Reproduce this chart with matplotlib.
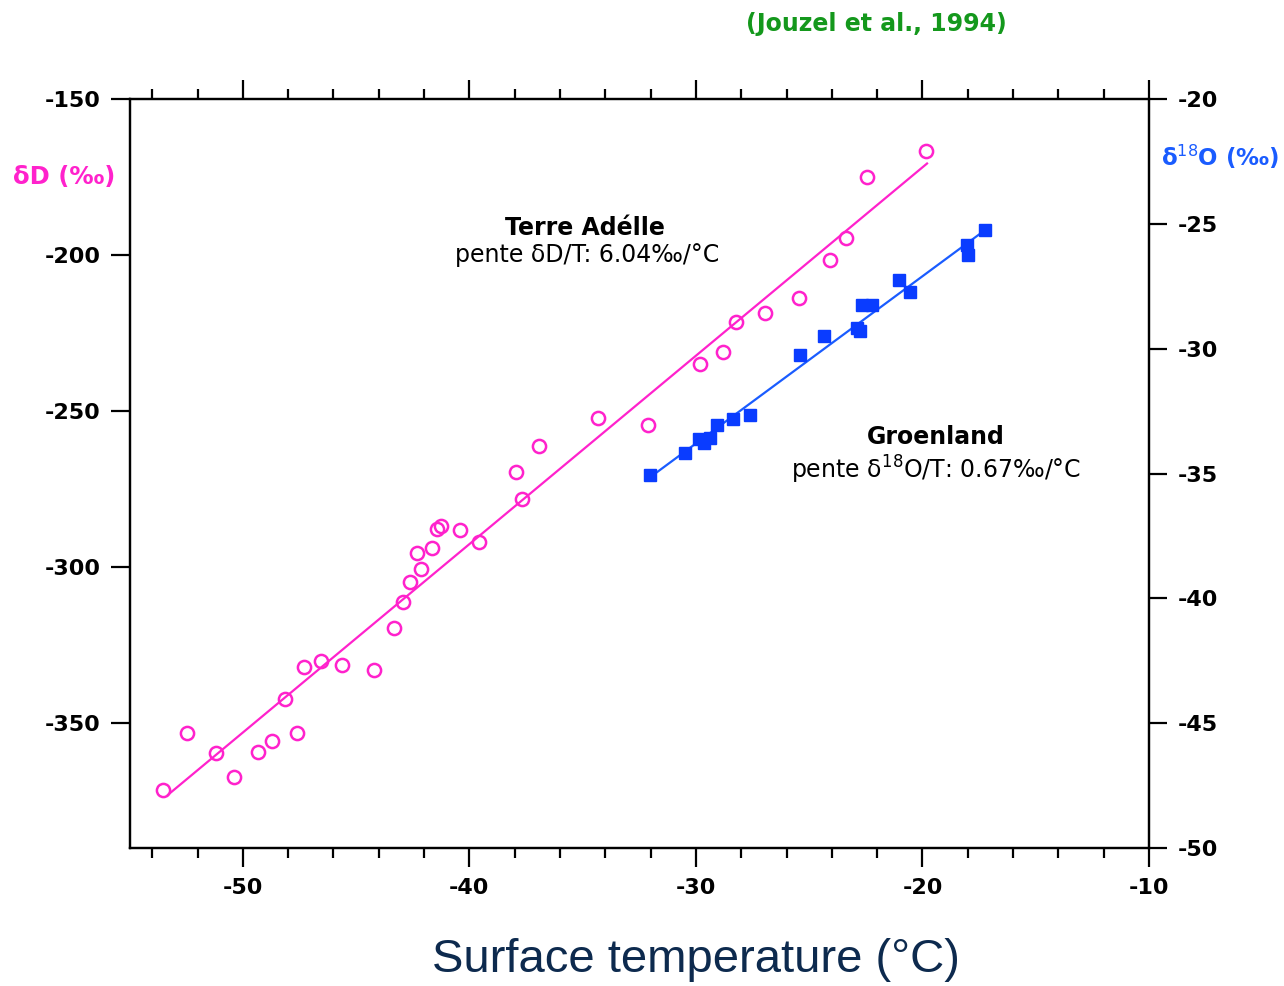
import numpy as np
import matplotlib
matplotlib.use("Agg")
import matplotlib.pyplot as plt
from matplotlib.ticker import MultipleLocator

plt.rcParams['axes.unicode_minus'] = False
plt.rcParams['font.family'] = ['DejaVu Sans']

# Terre Adelie: surface temperature (degC) vs deltaD (permil)
ta_temp = [-53.51, -52.48, -51.20, -50.40, -49.31, -48.71, -48.15, -47.61, -47.31,
           -46.53, -45.63, -44.22, -43.33, -42.92, -42.63, -42.13, -42.33, -41.63,
           -41.45, -41.25, -40.43, -39.59, -37.93, -37.67, -36.92, -34.32, -32.11,
           -29.84, -28.82, -28.25, -26.95, -25.45, -24.07, -23.36, -22.47, -19.84]
ta_dD = [-371.4, -353.0, -359.7, -367.4, -359.2, -355.7, -342.4, -353.3, -331.9,
         -330.1, -331.4, -332.8, -319.6, -311.3, -304.7, -300.6, -295.4, -294.0,
         -287.9, -286.8, -288.1, -291.9, -269.5, -278.2, -261.2, -252.2, -254.4,
         -234.9, -231.0, -221.3, -218.6, -213.8, -201.5, -194.4, -174.9, -166.7]

# Groenland: surface temperature (degC) vs delta18O (permil)
gr_temp = [-32.03, -30.47, -29.87, -29.65, -29.38, -29.07, -28.36, -27.61, -25.42,
           -24.33, -22.91, -22.78, -22.69, -22.23, -21.04, -20.54, -18.03, -18.00, -17.22]
gr_d18O = [-35.05, -34.18, -33.61, -33.77, -33.57, -33.05, -32.82, -32.65, -30.24,
           -29.47, -29.16, -29.28, -28.24, -28.24, -27.24, -27.73, -25.84, -26.24, -25.24]

# regression lines (slope, intercept, temperature range)
ta_fit = (6.04, -51.0, (-53.3, -19.8))
gr_fit = (0.67, -13.69, (-32.0, -17.2))

pink = '#ff22cc'
blue = '#1a5cff'
blue_sq = '#0a3cff'

fig = plt.figure(figsize=(12.84, 9.86), dpi=100)
ax = fig.add_axes([0.1009, 0.1400, 0.7940, 0.7593])
ax2 = ax.twinx()

# Terre Adelie
ax.plot(ta_temp, ta_dD, 'o', ms=9.5, mfc='none', mec=pink, mew=1.8, zorder=3)
xf = np.array(ta_fit[2])
ax.plot(xf, ta_fit[0] * xf + ta_fit[1], color=pink, lw=1.6)

# Groenland
ax2.plot(gr_temp, gr_d18O, 's', ms=8, color=blue_sq, mec=blue_sq, zorder=3)
xf = np.array(gr_fit[2])
ax2.plot(xf, gr_fit[0] * xf + gr_fit[1], color=blue, lw=1.6)

ax.set_xlim(-55, -10)
ax.set_ylim(-390, -150)
ax2.set_ylim(-50, -20)

ax.xaxis.set_major_locator(MultipleLocator(10))
ax.xaxis.set_minor_locator(MultipleLocator(2))
ax.yaxis.set_major_locator(MultipleLocator(50))
ax2.yaxis.set_major_locator(MultipleLocator(5))

for a in (ax, ax2):
    for s in a.spines.values():
        s.set_linewidth(1.6)

ax.tick_params(axis='x', which='major', direction='out', top=True, length=13.5, width=1.6,
               pad=8, labelsize=16)
ax.tick_params(axis='x', which='minor', direction='out', top=True, length=7.5, width=1.6)
ax.tick_params(axis='y', which='major', direction='out', length=14, width=1.6,
               pad=7, labelsize=16)
ax2.tick_params(axis='y', which='major', direction='out', length=13, width=1.6,
                pad=8, labelsize=16)
for lab in ax.get_xticklabels() + ax.get_yticklabels() + ax2.get_yticklabels():
    lab.set_fontweight('bold')

# annotations
ax.text(-34.9, -191.3, 'Terre Adélle', ha='center', va='center', fontsize=17,
        fontweight='bold')
ax.text(-34.8, -199.9, 'pente δD/T: 6.04‰/°C', ha='center', va='center', fontsize=17)
ax.text(-19.4, -258.3, 'Groenland', ha='center', va='center', fontsize=17,
        fontweight='bold')
ax.text(-19.4, -268.9, 'pente δ$^{18}$O/T: 0.67‰/°C', ha='center', va='center',
        fontsize=17)

fig.text(13 / 1284, 1 - 177 / 986, 'δD (‰)', color=pink, fontsize=17.5,
         fontweight='bold', ha='left', va='center')
fig.text(1161 / 1284, 1 - 157 / 986, 'δ$^{18}$O (‰)', color=blue, fontsize=16.5,
         fontweight='bold', ha='left', va='center')
fig.text(876 / 1284, 1 - 24 / 986, '(Jouzel et al., 1994)', color='#14981c',
         fontsize=17, fontweight='bold', ha='center', va='center')
fig.text(696 / 1284, 1 - 960 / 986, 'Surface temperature (°C)', color='#0d2a4e',
         fontsize=34, family='Liberation Sans', ha='center', va='center')

fig.savefig('out.png', dpi=100)
